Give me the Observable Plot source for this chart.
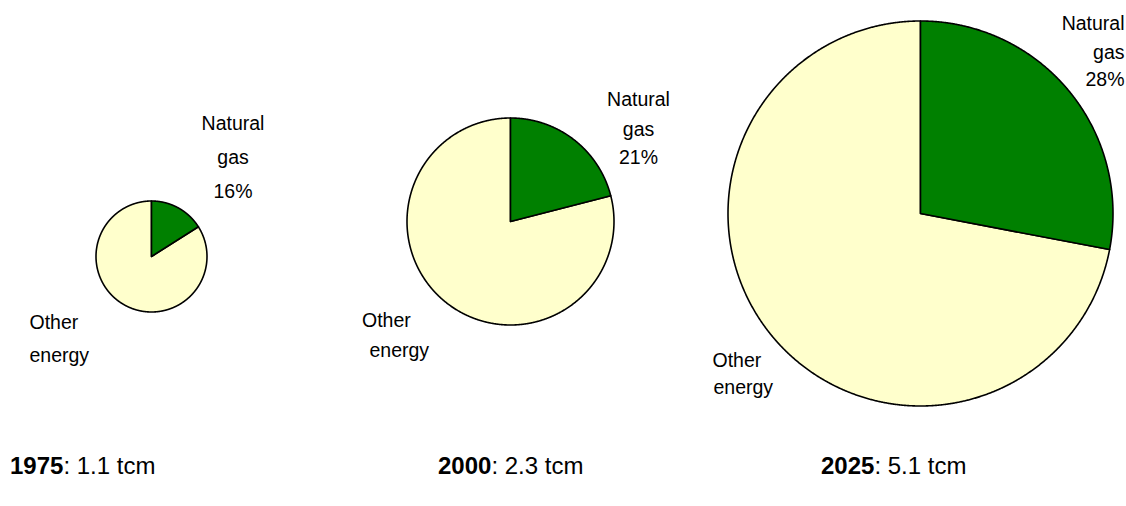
<!DOCTYPE html>
<html><head><meta charset="utf-8">
<script src="https://cdn.jsdelivr.net/npm/d3@7"></script>
<script src="https://cdn.jsdelivr.net/npm/@observablehq/plot@0.6"></script>
<style>
html,body{margin:0;padding:0;background:#fff;}
#wrap{position:relative;width:1126px;height:506px;font-family:"Liberation Sans",Arial,sans-serif;color:#000;}
#wrap svg{display:block;}
.cap{position:absolute;font-size:24px;line-height:24px;white-space:nowrap;}
</style></head><body><div id="wrap"></div>
<script>
// ---- data ----
const years = ["1975", "2000", "2025"];
const totals = [1.1, 2.3, 5.1];          // tcm
const gasShare = [16, 21, 28];           // % natural gas
const sliceNames = ["Natural gas", "Other energy"];
const unit = "tcm";

// ---- layout (pixels) ----
const W = 1126, H = 440;
const centers = [[151, 256], [510, 221], [920, 213]];
const radii = [55.5, 103.5, 192.5];
const FS = 19.5;
// gas label: anchor, x, baselines
const gasLabelLayout = [
  {anchor: "middle", x: 232.5, ys: [129.3, 163, 197.3]},
  {anchor: "middle", x: 638,   ys: [105.7, 135, 163.3]},
  {anchor: "end",    x: 1124,  ys: [29.3, 58, 85]}
];
const otherLabelLayout = [
  {xs: [29, 29],   ys: [328, 361]},
  {xs: [361.5, 369], ys: [326, 356]},
  {xs: [712, 713], ys: [366, 393]}
];
const capX = [10, 438, 821];
const capTop = 453.5;

// ---- geometry from data ----
function slice(i, f0, f1, name) {
  const [cx, cy] = centers[i], r = radii[i];
  const a0 = f0 * 2 * Math.PI, a1 = f1 * 2 * Math.PI;
  const n = Math.max(2, Math.ceil((a1 - a0) / (Math.PI / 720)));
  const pts = [{x: cx, y: cy, key: name + i, slice: name}];
  for (let k = 0; k <= n; k++) {
    const a = a0 + (a1 - a0) * k / n;
    pts.push({x: cx + r * Math.sin(a), y: cy - r * Math.cos(a), key: name + i, slice: name});
  }
  return pts;
}
const gasPts = [], otherPts = [];
years.forEach((y, i) => {
  const s = gasShare[i] / 100;
  gasPts.push(...slice(i, 0, s, sliceNames[0]));
  otherPts.push(...slice(i, s, 1, sliceNames[1]));
});

const gasText = [], otherText = [];
years.forEach((y, i) => {
  const lines = ["Natural", "gas", `${gasShare[i]}%`];
  const L = gasLabelLayout[i];
  lines.forEach((t, k) => gasText.push({text: t, x: L.x, y: L.ys[k] - 0.32 * FS, anchor: L.anchor}));
  const ol = sliceNames[1].split(" ");
  const O = otherLabelLayout[i];
  ol.forEach((t, k) => otherText.push({text: t, x: O.xs[k], y: O.ys[k] - 0.32 * FS}));
});

const lineOpts = {x: "x", y: "y", z: "key", stroke: "#000", strokeWidth: 1.6, curve: "linear-closed", strokeLinejoin: "round"};
const chart = Plot.plot({
  width: W, height: H, margin: 0,
  style: {fontFamily: '"Liberation Sans", Arial, sans-serif', fontSize: FS + "px", color: "#000", background: "#fff"},
  x: {domain: [0, W], range: [0, W], axis: null},
  y: {domain: [0, H], range: [0, H], axis: null},
  marks: [
    Plot.line(otherPts, {...lineOpts, fill: "#FFFFCC"}),
    Plot.line(gasPts, {...lineOpts, fill: "#008000"}),
    Plot.text(gasText.filter(d => d.anchor === "middle"), {x: "x", y: "y", text: "text", textAnchor: "middle", fontSize: FS, fill: "#000"}),
    Plot.text(gasText.filter(d => d.anchor === "end"), {x: "x", y: "y", text: "text", textAnchor: "end", fontSize: FS, fill: "#000"}),
    Plot.text(otherText, {x: "x", y: "y", text: "text", textAnchor: "start", fontSize: FS, fill: "#000"})
  ]
});
const wrap = document.getElementById("wrap");
wrap.appendChild(chart);
years.forEach((y, i) => {
  const s = document.createElement("span");
  s.className = "cap";
  s.style.left = capX[i] + "px";
  s.style.top = capTop + "px";
  s.innerHTML = `<b>${y}</b>: ${totals[i]} ${unit}`;
  wrap.appendChild(s);
});
</script></body></html>
